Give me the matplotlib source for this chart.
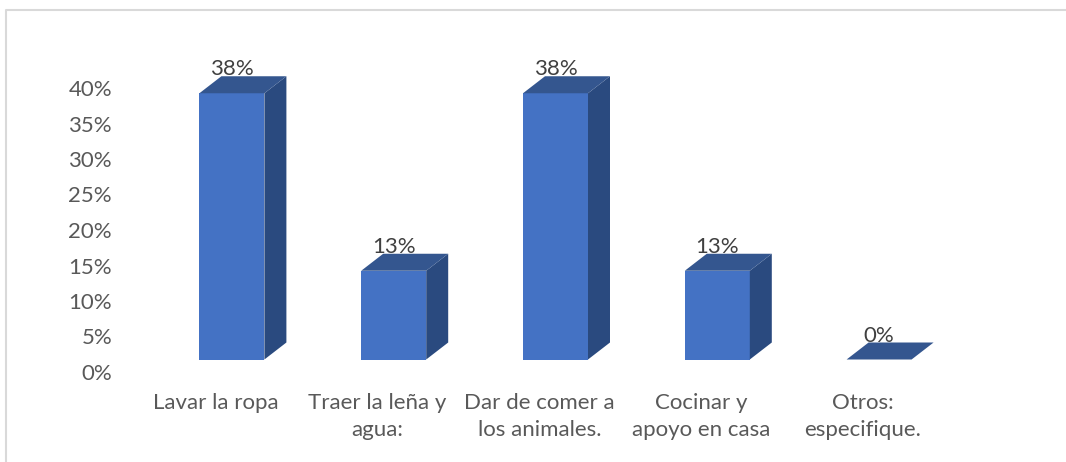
import matplotlib
matplotlib.use("Agg")
import matplotlib.pyplot as plt
from matplotlib.lines import Line2D
from matplotlib.patches import Polygon

categories=["Lavar la ropa","Traer la leña y\nagua:","Dar de comer a\nlos animales.","Cocinar y\napoyo en casa","Otros:\nespecifique."]
values=[37.5,12.5,37.5,12.5,0]
value_labels=["38%","13%","38%","13%","0%"]
y_ticks=[0,5,10,15,20,25,30,35,40]
y_tick_labels=["0%","5%","10%","15%","20%","25%","30%","35%","40%"]

W,H=1066,462
FRONT="#4472C4"
SIDE="#2A4A7F"
TOP="#34568F"
TEXT="#595959"
BORDER="#D9D9D9"

plt.rcParams["font.family"]=["Lato","DejaVu Sans"]

fig=plt.figure(figsize=(W/100,H/100),dpi=100)
# axes placed in pixels: 0% at y=372, 40% at y=88, one category = 161.75 px
left,right=151,960
top,bottom=88,372
ax=fig.add_axes([left/W,1-bottom/H,(right-left)/W,(bottom-top)/H])
ax.set_xlim(-0.5,4.5)
ax.set_ylim(0,40)
ax.patch.set_alpha(0)
for s in ax.spines.values():
    s.set_visible(False)

px_x=5/(right-left)
px_y=40/(bottom-top)
bar_w=65*px_x
dx=22*px_x
dy=17*px_y
base=12.5*px_y

for i,v in enumerate(values):
    x0=i-bar_w/2
    x1=i+bar_w/2
    y1=base+v
    if v>0:
        ax.bar(i,v,width=bar_w,bottom=base,color=FRONT,zorder=3)
        ax.add_patch(Polygon([(x1,base),(x1+dx,base+dy),(x1+dx,y1+dy),(x1,y1)],closed=True,facecolor=SIDE,edgecolor="none",zorder=3,clip_on=False))
    ax.add_patch(Polygon([(x0,y1),(x1,y1),(x1+dx,y1+dy),(x0+dx,y1+dy)],closed=True,facecolor=TOP,edgecolor="none",zorder=3,clip_on=False))
    ax.text(i,y1+dy-3*px_y,value_labels[i],ha="center",va="bottom",fontsize=16,color="#404040",zorder=4,clip_on=False)

ax.set_yticks(y_ticks)
ax.set_yticklabels(y_tick_labels,fontsize=16,color=TEXT)
ax.set_xticks([i-0.1 for i in range(len(categories))])
ax.set_xticklabels(categories,fontsize=16,color=TEXT,linespacing=1.42)
ax.tick_params(axis="y",length=0,pad=28)
ax.tick_params(axis="x",length=0,pad=15)

# chart frame, only the top and left edges show in the crop
fig.add_artist(Line2D([6/W,6/W,1],[0,1-10/H,1-10/H],color=BORDER,lw=1.5))

fig.savefig("out.png",dpi=100)
